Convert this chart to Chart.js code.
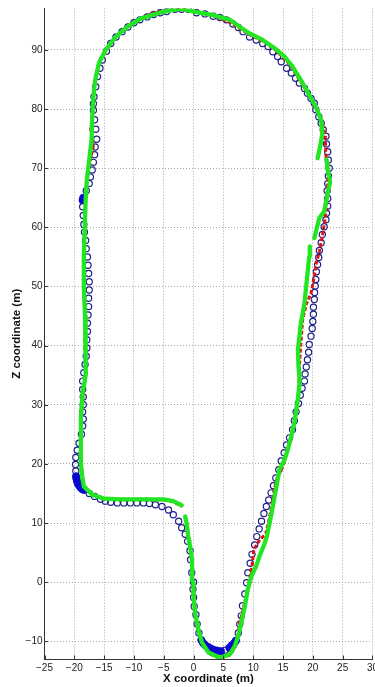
<!DOCTYPE html>
<html><head><meta charset="utf-8">
<script src="https://cdn.jsdelivr.net/npm/chart.js@4/dist/chart.umd.min.js"></script>
<style>html,body{margin:0;padding:0;background:#fff;overflow:hidden;width:375px;height:687px}canvas{display:block}</style>
</head><body><canvas id="c" width="381" height="687"></canvas>
<script>
const xTicks = [-25,-20,-15,-10,-5,0,5,10,15,20,25,30];
const zTicks = [-10,0,10,20,30,40,50,60,70,80,90];
const xTitle = 'X coordinate (m)';
const zTitle = 'Z coordinate (m)';

// blue open circles (reference track)
const circleX = [-5.3,-4.2,-3.4,-2.5,-2.0,-1.4,-1.0,-0.6,-0.5,-0.3,0.0,-0.1,0.0,0.1,0.4,0.6,0.9,5.25,7.5,7.75,8.0,8.2,8.6,8.9,9.1,9.5,9.8,10.25,10.6,11.0,11.4,11.8,12.2,12.6,13.0,13.4,13.8,14.3,14.7,15.2,15.6,16.1,16.6,16.9,17.2,17.6,17.9,18.2,18.6,18.7,18.9,19.1,19.3,19.4,19.7,19.9,20.0,20.1,20.1,20.25,20.3,20.4,20.5,20.6,20.8,21.0,21.1,21.4,21.6,21.9,22.2,22.3,22.5,22.5,22.4,22.5,22.6,22.75,22.6,22.5,22.3,22.2,21.75,21.4,21.0,20.5,20.25,19.7,19.1,18.6,17.75,17.1,16.4,15.6,14.7,14.1,13.3,12.5,11.6,10.5,9.4,8.3,7.5,6.6,5.5,4.4,3.3,1.9,0.5,-0.9,-2.0,-3.1,-4.5,-5.6,-6.7,-7.8,-9.0,-10.0,-11.0,-12.0,-13.0,-13.9,-14.6,-15.3,-15.7,-16.1,-16.4,-16.7,-16.8,-16.8,-16.6,-16.4,-16.25,-16.5,-16.6,-16.8,-17.0,-17.3,-17.5,-18.0,-18.6,-18.5,-18.4,-18.3,-18.1,-18.0,-17.8,-17.7,-17.6,-17.5,-17.5,-17.6,-17.6,-17.7,-17.8,-17.8,-17.9,-17.9,-18.0,-18.2,-18.4,-18.6,-18.6,-18.5,-18.5,-18.6,-18.5,-18.6,-18.8,-19.2,-19.5,-19.75,-19.8,-19.75,-17.5,-16.6,-15.6,-14.8,-13.9,-12.8,-11.7,-10.6,-9.5,-8.4,-7.4,-6.4];
const circleZ = [12.8,12.2,11.4,10.3,9.2,8.1,6.9,5.3,3.8,1.6,0.0,-1.2,-2.6,-4.1,-5.5,-7.1,-8.6,-11.5,-8.6,-7.1,-5.7,-4.0,-2.0,-0.1,1.6,3.2,4.7,6.3,7.7,9.0,10.3,11.6,12.8,13.9,15.1,16.3,17.6,19.0,20.5,21.9,23.2,24.4,25.8,27.3,28.8,30.2,31.6,32.8,34.0,35.2,36.4,37.6,38.9,40.2,41.6,42.9,44.1,45.3,46.5,47.8,49.0,50.1,51.2,52.5,53.7,54.9,56.1,57.4,58.8,60.1,61.3,62.4,63.6,64.9,66.2,67.4,68.7,70.0,71.4,72.8,74.1,75.4,76.5,77.6,78.7,79.9,81.0,81.8,82.7,83.5,84.4,85.2,86.1,86.9,88.0,88.9,89.7,90.6,91.1,91.7,92.2,93.1,93.8,94.4,95.1,95.5,95.7,96.1,96.3,96.9,96.9,96.9,96.5,96.3,96.0,95.6,95.1,94.6,93.9,93.1,92.2,91.1,89.8,88.3,86.9,85.5,83.8,82.1,80.9,79.8,78.2,76.6,74.9,73.6,72.3,71.0,69.7,68.5,67.4,66.2,63.5,62.0,60.5,59.2,57.8,56.4,55.0,53.6,52.2,50.8,49.4,48.0,46.6,45.2,43.8,42.4,41.0,39.6,38.2,36.8,35.4,34.0,32.6,31.3,30.0,28.8,27.6,26.4,25.0,23.5,22.3,21.1,19.9,18.8,15.0,14.5,14.0,13.7,13.5,13.4,13.4,13.4,13.4,13.4,13.3,13.1];

// dense blue (filled) positions
const filledX = [-19.7,-19.65,-19.55,-19.4,-19.2,-18.95,-18.7,-18.4,-18.5,-18.6,1.3,1.6,2.0,2.5,3.0,3.5,4.0,4.6,6.0,6.4,6.8,7.1];
const filledZ = [17.9,17.5,17.1,16.7,16.35,16.0,15.75,15.6,65.0,64.6,-9.8,-10.3,-10.7,-11.0,-11.3,-11.5,-11.6,-11.7,-11.1,-10.7,-10.3,-9.9];

// red estimate
const redX = [-1.2,-0.8,-0.4,-0.2,0.0,0.3,0.8,1.5,2.6,4.4,6.2,7.0,7.5,7.7,8.2,8.8,9.4,9.9,10.1,11.0,12.1,12.5,12.9,13.2,13.5,14.0,15.0,15.6,16.2,16.8,17.2,17.6,17.7,17.9,18.3,18.9,19.7,20.25,20.6,21.1,21.6,22.0,22.3,22.5,22.6,22.2,22.1,21.6,20.6,19.4,18.0,16.6,15.5,13.6,11.6,9.4,7.5,6.3,3.3,0.5,-2.2,-4.5,-6.7,-8.9,-11.1,-13.1,-14.75,-15.9,-16.5,-16.8,-17.0,-17.25,-16.8,-17.4,-17.9,-18.1,-18.25,-18.4,-18.4,-18.2,-18.1,-18.1,-18.7,-18.9,-18.9,-18.4,-17.0,-15.0,-12.0,-8.0,-5.0,-3.4,-2.0];
const redZ = [10.5,7.5,4.5,1.5,-2.5,-5.5,-8.3,-10.5,-12.1,-12.9,-12.3,-10.9,-8.8,-7.0,-5.0,-2.5,0.5,3.5,5.5,7.0,8.2,9.8,11.8,13.5,15.5,17.6,19.6,21.8,24.0,26.5,29.0,31.5,35.0,39.0,44.4,47.0,48.9,51.7,54.0,55.9,58.5,61.0,63.5,67.5,69.5,72.0,75.5,77.5,80.0,82.3,84.6,86.8,88.3,90.1,91.5,92.6,93.8,94.6,95.8,96.4,96.9,96.7,96.3,95.3,93.9,92.2,90.0,87.7,84.9,82.1,78.7,76.5,73.8,71.0,68.0,64.6,60.0,55.0,50.0,45.0,40.0,35.0,30.0,25.0,20.0,16.2,14.8,14.1,14.0,14.0,13.9,13.6,12.8];

// green estimate (null = gap)
const greenX = [-1.4,-1.1,-0.9,-0.5,-0.3,-0.2,-0.3,0.0,0.0,0.25,0.8,1.4,2.5,4.4,6.1,6.9,7.5,8.0,8.6,9.1,9.7,10.5,11.1,11.9,12.3,12.75,13.3,13.9,14.4,15.25,15.8,16.4,16.9,17.2,17.5,17.8,17.6,17.5,18.0,18.6,19.0,19.4,19.5,null,20.25,21.1,21.9,22.5,22.9,22.5,22.3,null,20.8,21.2,21.6,21.4,20.5,19.4,18.0,16.6,15.25,13.6,11.6,9.4,7.75,6.1,3.3,0.5,-2.25,-5.0,-8.9,-11.1,-13.1,-14.75,-15.9,-16.5,-16.8,-17.0,-17.1,-17.5,-17.9,-18.1,-18.25,-18.4,-18.4,-18.2,-18.1,-18.1,-18.6,-18.9,-18.9,-18.9,-18.7,-18.4,-17.0,-15.0,-12.0,-8.0,-5.0,-3.4,-2.0];
const greenZ = [11.1,9.5,7.8,5.5,4.1,2.0,0.4,-0.2,-2.3,-5.2,-8.0,-10.2,-11.9,-12.8,-12.2,-10.8,-9.1,-6.9,-4.1,-1.2,1.0,2.7,4.5,6.5,7.8,10.0,12.8,16.2,19.0,20.7,22.4,24.7,26.9,29.0,30.9,34.0,36.5,39.3,43.8,47.2,51.1,55.1,56.8,null,58.2,61.6,62.7,65.8,67.7,69.7,71.5,null,71.7,73.5,75.9,78.2,80.4,82.4,84.9,87.2,88.9,90.3,91.7,92.8,93.9,95.1,95.9,96.4,97.0,96.5,95.3,93.9,92.2,90.0,87.7,84.9,82.1,78.7,74.8,71.4,68.0,64.6,60.0,55.0,50.0,45.0,40.0,35.0,32.0,28.0,24.0,20.0,18.0,16.2,14.8,14.1,14.0,14.0,14.0,13.7,13.0];

const pts = (xs, zs) => xs.map((x, i) => ({x: x, y: zs[i]}));
const fontFam = '"Liberation Sans", Arial, Helvetica, sans-serif';
const fmt = v => v < 0 ? '\u2212' + Math.abs(v) : String(v);

const innerTicks = {
  id: 'innerTicks',
  afterDraw(chart) {
    const {ctx, chartArea: a, scales: {x, y}} = chart;
    ctx.save();
    ctx.strokeStyle = '#333';
    ctx.lineWidth = 1;
    ctx.beginPath();
    xTicks.forEach(v => { const px = Math.round(x.getPixelForValue(v)) + 0.5; ctx.moveTo(px, a.bottom); ctx.lineTo(px, a.bottom - 3.5); });
    zTicks.forEach(v => { const py = Math.round(y.getPixelForValue(v)) + 0.5; ctx.moveTo(a.left, py); ctx.lineTo(a.left + 3.5, py); });
    ctx.stroke();
    ctx.restore();
  }
};

new Chart(document.getElementById('c'), {
  type: 'scatter',
  data: {
    datasets: [
      { label: 'green', data: pts(greenX, greenZ), showLine: true, spanGaps: false, borderColor: '#22e622', backgroundColor: '#22e622', borderWidth: 4.3, pointRadius: 0, borderCapStyle: 'round', borderJoinStyle: 'round', order: 0 },
      { label: 'red', data: pts(redX, redZ), showLine: true, borderColor: '#dd1515', backgroundColor: '#dd1515', borderWidth: 3, pointRadius: 0, borderDash: [4, 2], order: 1 },
      { label: 'blue filled', data: pts(filledX, filledZ), pointRadius: 3.6, pointStyle: 'circle', borderColor: '#0a0acc', backgroundColor: '#0a0acc', borderWidth: 1, order: 2 },
      { label: 'blue', data: pts(circleX, circleZ), pointRadius: 3.1, pointStyle: 'circle', borderColor: '#20208a', backgroundColor: 'rgba(0,0,0,0)', borderWidth: 1.2, order: 3 }
    ]
  },
  options: {
    responsive: false,
    animation: false,
    devicePixelRatio: 1,
    layout: { padding: { top: 8.6, right: 0, left: 0, bottom: 0 } },
    plugins: { legend: { display: false }, tooltip: { enabled: false } },
    elements: { line: { tension: 0 } },
    scales: {
      x: {
        type: 'linear', min: -25, max: 30,
        afterFit(s) { s.height = 28; },
        afterBuildTicks(s) { s.ticks = xTicks.map(v => ({value: v})); },
        ticks: { stepSize: 5, includeBounds: false, padding: 3, color: '#222', font: { family: fontFam, size: 10 }, callback: fmt, maxRotation: 0, autoSkip: false },
        grid: { color: '#a8a8a8', lineWidth: 1, drawTicks: false },
        border: { display: true, color: '#333', width: 1, dash: [1, 2] },
        title: { display: true, text: xTitle, color: '#111', font: { family: fontFam, size: 11.5, weight: 'bold' }, padding: { top: 0, bottom: 1 } }
      },
      y: {
        type: 'linear', min: -13, max: 97,
        afterFit(s) { s.width = 44.5; },
        afterBuildTicks(s) { s.ticks = zTicks.map(v => ({value: v})); },
        ticks: { stepSize: 10, includeBounds: false, padding: 2, color: '#222', font: { family: fontFam, size: 10 }, callback: fmt, autoSkip: false },
        grid: { color: '#a8a8a8', lineWidth: 1, drawTicks: false },
        border: { display: true, color: '#333', width: 1, dash: [1, 2] },
        title: { display: true, text: zTitle, color: '#111', font: { family: fontFam, size: 11.5, weight: 'bold' }, padding: { top: 10, bottom: 0 } }
      }
    }
  },
  plugins: [innerTicks]
});
</script>
</body></html>
